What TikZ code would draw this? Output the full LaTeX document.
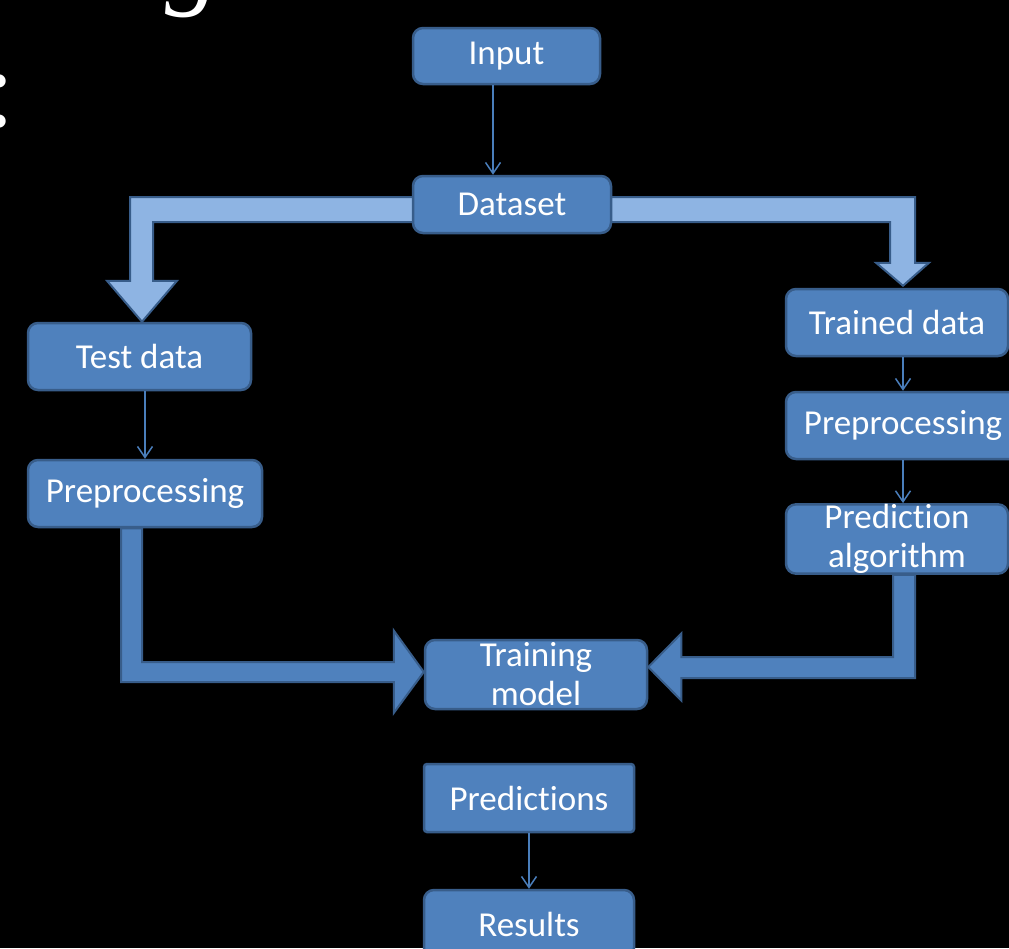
\documentclass[tikz,border=0pt]{standalone}
\usepackage{fontspec}
\setmainfont[Ligatures=NoCommon]{Carlito}
\newfontfamily\titlefont{Liberation Serif}
\usetikzlibrary{arrows.meta,calc,backgrounds}
\definecolor{boxfill}{HTML}{4F81BD}
\definecolor{boxline}{HTML}{385D8A}
\definecolor{lightfill}{HTML}{8EB4E3}
\definecolor{linkblue}{HTML}{4A7EBB}

\begin{document}
\begin{tikzpicture}[x=1pt,y=-1pt]
    % Define node styles
    \tikzstyle{stage} = [rectangle, draw=boxline, fill=boxfill, line width=2.5pt, rounded corners=10pt, inner sep=0pt, text=white, align=center, font=\fontsize{35}{39}\selectfont]
    \tikzstyle{link} = [-{Straight Barb[length=11pt,width=15pt]}, draw=linkblue, line width=1.5pt]
    \tikzstyle{fatlight} = [fill=lightfill, draw=boxline, line width=2pt, line join=miter]
    \tikzstyle{fatdark} = [fill=boxfill, draw=boxline, line width=2pt, line join=miter]

    \useasboundingbox (0,0) rectangle (1009,948);

    % Title fragments cut off by the frame
    \node[text=white, font=\titlefont\itshape\fontsize{110}{110}\selectfont, anchor=base] (titleg) at (193,-6) {g};
    \node[text=white, font=\titlefont\fontsize{110}{110}\selectfont, anchor=base] (titlecolon) at (0,126) {:};

    % Nodes
    \node[stage, minimum width=187, minimum height=56] (input) at (506.5,56) {Input};
    \node[stage, minimum width=198, minimum height=57] (dataset) at (512,204.5) {Dataset};
    \node[stage, minimum width=223, minimum height=67] (test) at (139.5,356.5) {Test data};
    \node[stage, minimum width=234, minimum height=67] (prepL) at (145,493.5) {Preprocessing};
    \node[stage, minimum width=222, minimum height=67] (trained) at (897,322.5) {Trained data};
    \node[stage, minimum width=234, minimum height=67] (prepR) at (903,425.5) {Preprocessing};
    \node[stage, minimum width=222, minimum height=68] (pred) at (897,539) {Prediction\\algorithm};
    \node[stage, minimum width=222, minimum height=69] (train) at (536,674.5) {Training\\model};
    \node[stage, rounded corners=3pt, minimum width=210, minimum height=68] (predictions) at (529,798) {Predictions};
    \node[stage, minimum width=210, minimum height=68] (results) at (529,924) {Results};

    % Thin arrows
    \draw[link] ([xshift=-13.5pt]input.south) -- ([xshift=-13.5pt]input.south |- dataset.north);
    \draw[link] (prepL.north |- test.south) -- (prepL.north);
    \draw[link] (prepR.north |- trained.south) -- (prepR.north);
    \draw[link] (prepR.south) -- (prepR.south |- pred.north);
    \draw[link] (predictions.south) -- (results.north);

    % Block arrows, behind the boxes
    \begin{scope}[on background layer]
    \fill[black] (0,0) rectangle (1009,948);
    \draw[fatlight] ($(dataset.center)+(0,-7.5)$) -- ($(test.north |- dataset.center)+(-9.5,-7.5)$) -- ($(test.north)+(-9.5,-41)$) -- ($(test.north)+(-32.5,-41)$) -- ($(test.north)+(2.5,0)$) -- ($(test.north)+(37.5,-41)$) -- ($(test.north)+(13.5,-41)$) -- ($(test.north |- dataset.center)+(13.5,17.5)$) -- ($(dataset.center)+(0,17.5)$) -- cycle;
    \draw[fatlight] ($(dataset.center)+(0,-7.5)$) -- ($(trained.north |- dataset.center)+(18,-7.5)$) -- ($(trained.north)+(18,-25)$) -- ($(trained.north)+(32,-25)$) -- ($(trained.north)+(6,-2)$) -- ($(trained.north)+(-21,-25)$) -- ($(trained.north)+(-7,-25)$) -- ($(trained.north |- dataset.center)+(-7,17.5)$) -- ($(dataset.center)+(0,17.5)$) -- cycle;
    \draw[fatdark] ($(prepL.south)+(-24,0)$) -- ($(prepL.south |- train.west)+(-24,7.5)$) -- ($(train.west)+(-30,7.5)$) -- ($(train.west)+(-30,38.5)$) -- ($(train.west)+(0,-2.5)$) -- ($(train.west)+(-30,-44)$) -- ($(train.west)+(-30,-12.5)$) -- ($(prepL.south |- train.west)+(-3,-12.5)$) -- ($(prepL.south)+(-3,0)$) -- cycle;
    \draw[fatdark] ($(pred.south)+(-4,0)$) -- ($(pred.south |- train.east)+(-4,-17.5)$) -- ($(train.east)+(33,-17.5)$) -- ($(train.east)+(33,-41)$) -- ($(train.east)+(0,-7.5)$) -- ($(train.east)+(33,26)$) -- ($(train.east)+(33,3.5)$) -- ($(pred.south |- train.east)+(18,3.5)$) -- ($(pred.south)+(18,0)$) -- cycle;
    \end{scope}
\end{tikzpicture}
\end{document}
